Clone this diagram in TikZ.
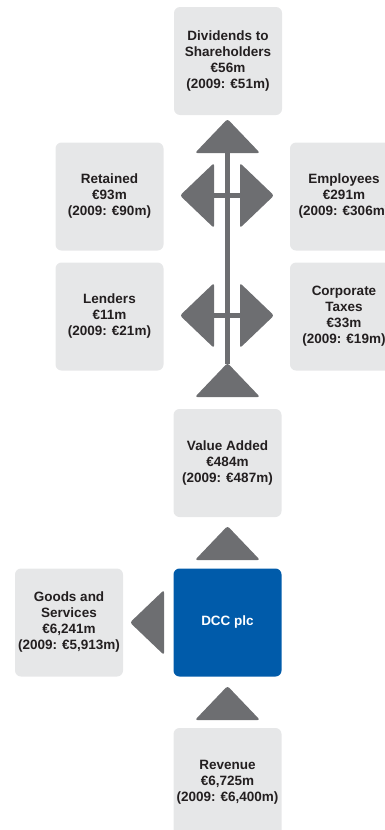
\documentclass[tikz,border=0pt]{standalone}
\usepackage{fontspec}
\setmainfont{Liberation Sans}
\definecolor{boxgray}{HTML}{E6E7E8}
\definecolor{arrgray}{HTML}{6D6E71}
\definecolor{dccblue}{HTML}{005BAA}
\definecolor{txtgray}{HTML}{231F20}

\begin{document}
\begin{tikzpicture}[x=1pt,y=-1pt,
    box/.style={fill=boxgray,rounded corners=6pt,minimum width=108pt,minimum height=108pt,
      inner sep=0pt,align=center,text=txtgray,font=\fontsize{13.5}{16}\selectfont\bfseries},
    arr/.style={fill=arrgray,rounded corners=2.5pt},
    bar/.style={draw=arrgray,line width=5.5pt}]
      \useasboundingbox (0,0) rectangle (385,830);
      % boxes
      \node[box] (div) at (228,61) {Dividends to\\Shareholders\\€56m\\(2009: €51m)};
      \node[box] (ret) at (109.5,196.5) {Retained\\€93m\\(2009: €90m)};
      \node[box] (emp) at (344,196.5) {Employees\\€291m\\(2009: €306m)};
      \node[box] (len) at (109.5,316.5) {Lenders\\€11m\\(2009: €21m)};
      \node[box] (tax) at (344,316.5) {Corporate\\Taxes\\€33m\\(2009: €19m)};
      \node[box] (va) at (227.5,463) {Value Added\\€484m\\(2009: €487m)};
      \node[box,fill=dccblue,text=white] (dcc) at (227.5,622.5) {DCC plc};
      \node[box] (gs) at (69,622.5) {Goods and\\Services\\€6,241m\\(2009: €5,913m)};
      \node[box] (rev) at (227.5,782) {Revenue\\€6,725m\\(2009: €6,400m)};
      % trunk and cross bars
      \coordinate (trtop) at (227.5,153);
      \coordinate (trbot) at (227.5,364);
      \draw[bar] (trbot) -- (trtop);
      \draw[bar] (214,195.5) -- (240,195.5);
      \draw[bar] (214,315.5) -- (240,315.5);
      % arrow heads
      \fill[arr] (195,153) -- (227.5,119) -- (260,153) -- cycle;
      \foreach \y in {195.5,315.5} {
        \fill[arr] (214,\y-32.5) -- (180,\y) -- (214,\y+32.5) -- cycle;
        \fill[arr] (240,\y-32.5) -- (274,\y) -- (240,\y+32.5) -- cycle;
      }
      \foreach \b in {397,560,720}
        \fill[arr] (195,\b) -- (227.5,\b-34) -- (260,\b) -- cycle;
      \fill[arr] (164,590) -- (130,622.5) -- (164,655) -- cycle;
    \end{tikzpicture}
\end{document}
